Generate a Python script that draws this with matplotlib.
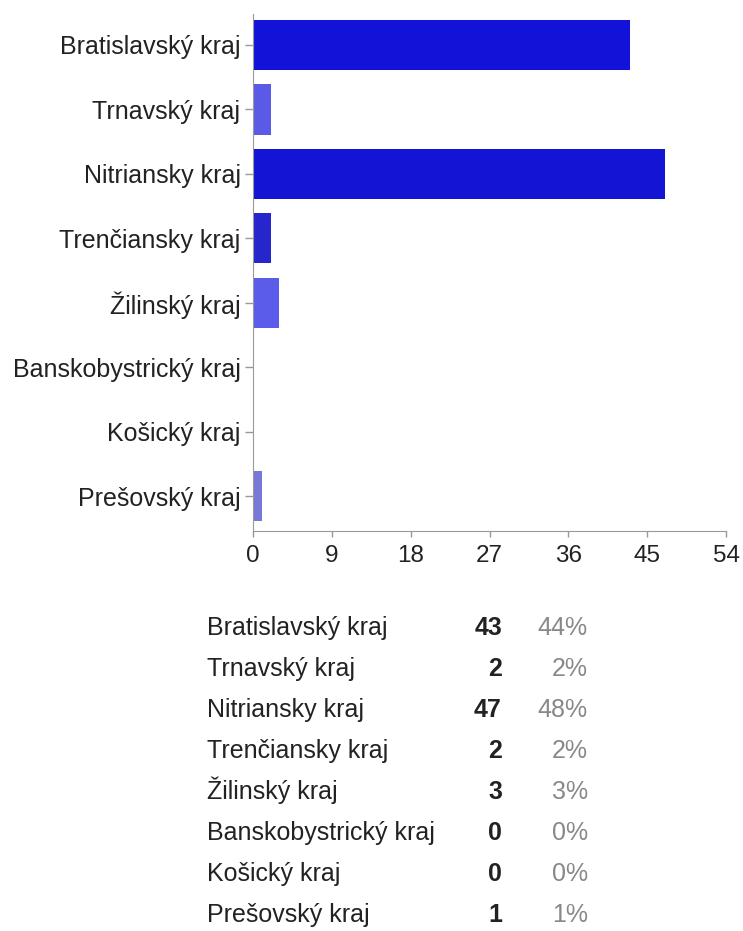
import matplotlib.pyplot as plt

plt.rcParams['font.family'] = ['Liberation Sans', 'DejaVu Sans']

regions = ["Bratislavský kraj", "Trnavský kraj", "Nitriansky kraj", "Trenčiansky kraj",
           "Žilinský kraj", "Banskobystrický kraj", "Košický kraj", "Prešovský kraj"]
counts = [43, 2, 47, 2, 3, 0, 0, 1]
percents = ["44%", "2%", "48%", "2%", "3%", "0%", "0%", "1%"]
xticks = [0, 9, 18, 27, 36, 45, 54]

bar_colors = ['#1212d8', '#5a5ae6', '#1414d4', '#2626cc', '#5c5ceb', '#5c5ceb', '#5c5ceb', '#7878d8']

W, H = 743, 931
fig = plt.figure(figsize=(W/100, H/100), dpi=100)
ax = fig.add_axes([253/W, 1 - 531/H, (726-253)/W, (531-14)/H])

ypos = list(range(len(regions)))
ax.barh(ypos, counts, height=0.78, color=bar_colors)
ax.set_xlim(0, 54)
ax.set_ylim(7.54, -0.48)
ax.set_xticks(xticks)
ax.set_yticks(ypos)
ax.set_yticklabels(regions)
ax.tick_params(axis='both', colors='#999999', labelcolor='#222222', width=1)
ax.tick_params(axis='x', labelsize=17.5, length=4, pad=6)
ax.tick_params(axis='y', labelsize=18, length=6, pad=3)
for s in ['top', 'right']:
    ax.spines[s].set_visible(False)
for s in ['left', 'bottom']:
    ax.spines[s].set_color('#999999')

# summary table below the chart
row0, step = 635, 41
for i, (r, c, p) in enumerate(zip(regions, counts, percents)):
    y = 1 - (row0 + i*step)/H
    fig.text(207/W, y, r, fontsize=18, color='#222222', va='baseline', ha='left')
    fig.text(502/W, y, str(c), fontsize=18, color='#222222', fontweight='bold', va='baseline', ha='right')
    fig.text(588/W, y, p, fontsize=18, color='#888888', va='baseline', ha='right')

fig.savefig('out.png', dpi=100)
